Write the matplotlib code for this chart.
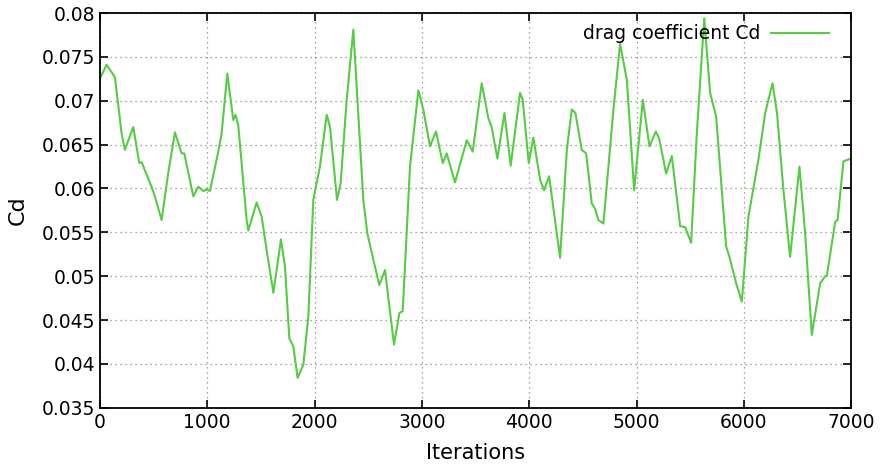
import numpy as np
import matplotlib.pyplot as plt
from matplotlib.ticker import FuncFormatter

# values
iterations = [0, 62, 140, 202, 233, 311, 367, 389, 481, 512, 575, 637, 699, 761, 786,
              870, 917, 964, 994, 1025, 1103, 1134, 1187, 1243, 1264, 1289, 1367, 1382,
              1460, 1507, 1553, 1616, 1687, 1724, 1765, 1802, 1842, 1895, 1942, 1988,
              2050, 2113, 2144, 2209, 2243, 2299, 2361, 2454, 2491, 2547, 2603, 2656,
              2740, 2790, 2821, 2889, 2967, 3013, 3075, 3131, 3194, 3231, 3308, 3418,
              3473, 3557, 3619, 3650, 3703, 3769, 3827, 3914, 3939, 3995, 4038, 4101,
              4138, 4185, 4287, 4350, 4396, 4430, 4489, 4530, 4582, 4613, 4644, 4691,
              4784, 4846, 4909, 4977, 5058, 5120, 5179, 5210, 5275, 5328, 5406, 5452,
              5508, 5561, 5630, 5685, 5741, 5834, 5865, 5927, 5980, 6042, 6135, 6198,
              6266, 6308, 6368, 6430, 6517, 6570, 6632, 6710, 6757, 6772, 6850, 6872,
              6927, 6974, 7000]
cd = [0.0725, 0.0741, 0.0727, 0.0663, 0.0644, 0.0670, 0.0629, 0.0630, 0.0602, 0.0591,
      0.0564, 0.0618, 0.0664, 0.0640, 0.0640, 0.0591, 0.0602, 0.0597, 0.0599, 0.0597,
      0.0642, 0.0663, 0.0731, 0.0678, 0.0684, 0.0672, 0.0564, 0.0552, 0.0584, 0.0568,
      0.0530, 0.0481, 0.0542, 0.0511, 0.0429, 0.0420, 0.0384, 0.0399, 0.0454, 0.0587,
      0.0625, 0.0684, 0.0670, 0.0587, 0.0606, 0.0701, 0.0781, 0.0587, 0.0549, 0.0519,
      0.0490, 0.0507, 0.0422, 0.0458, 0.0460, 0.0625, 0.0712, 0.0690, 0.0648, 0.0665,
      0.0629, 0.0640, 0.0607, 0.0655, 0.0642, 0.0720, 0.0680, 0.0670, 0.0634, 0.0686,
      0.0626, 0.0709, 0.0701, 0.0629, 0.0658, 0.0610, 0.0598, 0.0614, 0.0521, 0.0644,
      0.0690, 0.0686, 0.0644, 0.0640, 0.0583, 0.0577, 0.0564, 0.0560, 0.0690, 0.0765,
      0.0724, 0.0598, 0.0701, 0.0648, 0.0665, 0.0657, 0.0617, 0.0637, 0.0557, 0.0556,
      0.0538, 0.0663, 0.0794, 0.0709, 0.0682, 0.0534, 0.0522, 0.0492, 0.0471, 0.0568,
      0.0633, 0.0686, 0.0720, 0.0686, 0.0598, 0.0522, 0.0625, 0.0549, 0.0433, 0.0492,
      0.0500, 0.0500, 0.0562, 0.0564, 0.0631, 0.0633, 0.0634]

x_ticks = [0, 1000, 2000, 3000, 4000, 5000, 6000, 7000]
y_ticks = [0.035, 0.04, 0.045, 0.05, 0.055, 0.06, 0.065, 0.07, 0.075, 0.08]

fig = plt.figure(figsize=(8.84, 4.66), dpi=100)
ax = fig.add_axes([0.113, 0.125, 0.85, 0.847])

ax.plot(iterations, cd, color='#55cc44', lw=1.5, label='drag coefficient Cd')

ax.set_xlim(0, 7000)
ax.set_ylim(0.035, 0.08)
ax.set_xticks(x_ticks)
ax.set_yticks(y_ticks)
ax.yaxis.set_major_formatter(FuncFormatter(lambda v, p: '%g' % v))
ax.tick_params(direction='in', top=True, right=True, labelsize=13.5, length=6, width=1.2)
ax.grid(True, linestyle=(0, (1, 3)), color='#888888', linewidth=0.9)

for s in ax.spines.values():
    s.set_linewidth(1.3)

ax.set_xlabel('Iterations', fontsize=15, labelpad=8)
ax.set_ylabel('Cd', fontsize=16, labelpad=10)

ax.legend(loc='upper right', bbox_to_anchor=(0.985, 1.0), frameon=False,
          markerfirst=False, fontsize=13.5, handlelength=3.1, handletextpad=0.55,
          borderaxespad=0.2)

fig.savefig('out.png', dpi=100)
